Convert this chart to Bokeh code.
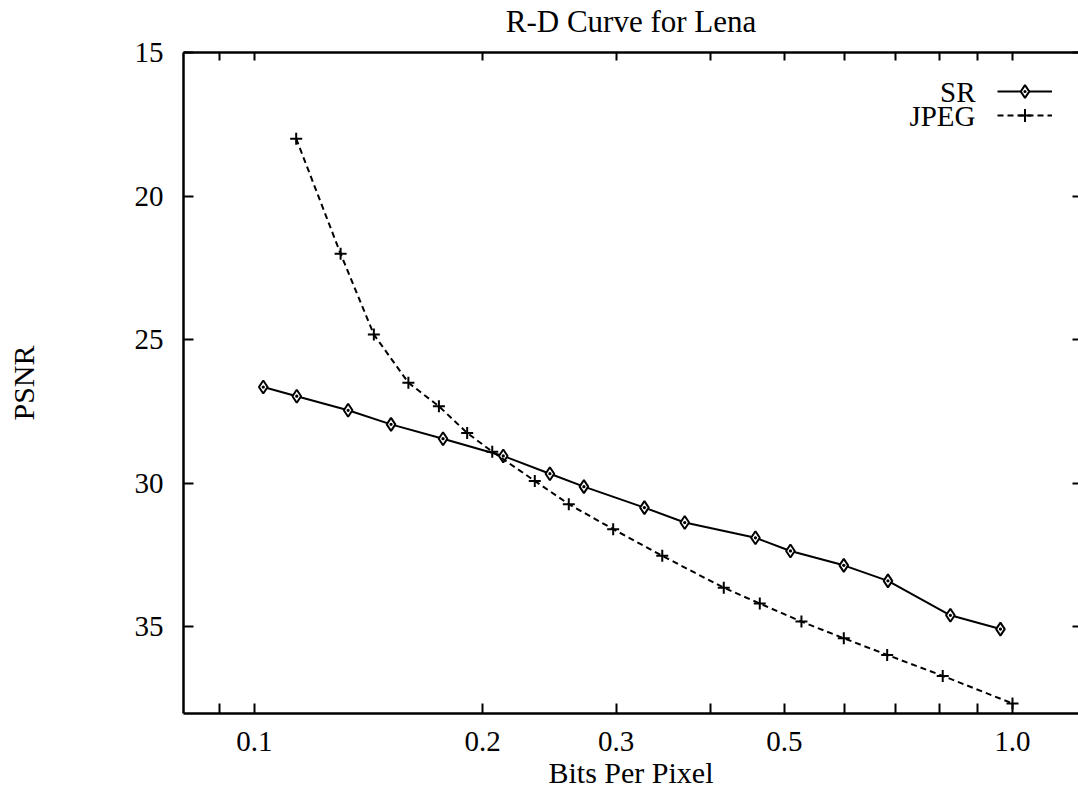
from bokeh.plotting import figure
from bokeh.models import (Range1d, FixedTicker, LogAxis, LinearAxis, Legend,
                          LegendItem, CustomJSTickFormatter, Label)
from bokeh.embed import file_html
from bokeh.resources import INLINE

# Rate (bits per pixel) vs. PSNR for the two coders
sr_bpp = [0.1027, 0.1137, 0.1329, 0.1514, 0.1773, 0.2129, 0.2453, 0.2720,
          0.3269, 0.3695, 0.458, 0.5094, 0.599, 0.685, 0.828, 0.964]
sr_psnr = [26.65, 26.97, 27.46, 27.95, 28.45, 29.05, 29.67, 30.12,
           30.85, 31.37, 31.9, 32.36, 32.86, 33.4, 34.6, 35.08]

jpeg_bpp = [0.1135, 0.1299, 0.1437, 0.1596, 0.1751, 0.1908, 0.2059, 0.2343,
            0.2598, 0.2973, 0.3451, 0.4160, 0.4641, 0.5267, 0.599, 0.6834,
            0.809, 1.0]
jpeg_psnr = [18.0, 22.01, 24.82, 26.5, 27.32, 28.25, 28.9, 29.92,
             30.73, 31.6, 32.53, 33.64, 34.19, 34.82, 35.4, 35.98,
             36.71, 37.67]

x_major = [0.1, 0.2, 0.3, 0.5, 1.0]
x_minor = [0.09, 0.4, 0.6, 0.7, 0.8, 0.9]
y_ticks = [15, 20, 25, 30, 35]
series_names = ["SR", "JPEG"]
title_text = "R-D Curve for Lena"

FONT = "Liberation Serif"
W, H = 1078, 791
LEFT, TOP, BOTTOM = 183, 51, 78
FRAME_W, FRAME_H = W - LEFT, H - TOP - BOTTOM

p = figure(width=W, height=H, x_axis_type="log",
           x_range=Range1d(0.0806, 1.222), y_range=Range1d(38.02, 15),
           output_backend="svg", toolbar_location=None,
           min_border_left=LEFT, min_border_right=0,
           min_border_top=TOP, min_border_bottom=BOTTOM)

p.background_fill_color = "white"
p.border_fill_color = "white"
p.outline_line_color = None
p.grid.visible = False


def style_axis(ax, tick_in=10):
    ax.axis_line_color = "black"
    ax.axis_line_width = 2.5
    ax.major_tick_line_color = "black"
    ax.minor_tick_line_color = "black"
    ax.major_tick_line_width = 2
    ax.minor_tick_line_width = 2
    ax.major_tick_in = tick_in
    ax.major_tick_out = 0
    ax.minor_tick_in = tick_in
    ax.minor_tick_out = 0
    ax.major_label_text_font = FONT
    ax.major_label_text_font_size = "29px"
    ax.major_label_text_color = "black"
    ax.axis_label_text_font = FONT
    ax.axis_label_text_font_size = "30px"
    ax.axis_label_text_font_style = "normal"
    ax.axis_label_text_color = "black"


xax = p.xaxis[0]
xax.ticker = FixedTicker(ticks=x_major, minor_ticks=x_minor)
xax.formatter = CustomJSTickFormatter(code="return tick.toFixed(1);")
xax.axis_label = "Bits Per Pixel"
style_axis(xax)
xax.major_label_standoff = 18
xax.axis_label_standoff = 2

yax = p.yaxis[0]
yax.ticker = FixedTicker(ticks=y_ticks)
yax.axis_label = "PSNR"
style_axis(yax)
yax.major_label_standoff = 20
yax.axis_label_standoff = 92

# Top frame edge: ticks only, with the chart title as its label
blank = CustomJSTickFormatter(code="return '';")
top = LogAxis(ticker=FixedTicker(ticks=x_major, minor_ticks=x_minor),
              formatter=blank)
style_axis(top, tick_in=8)
top.major_label_standoff = 0
top.major_label_text_font_size = "0px"
top.axis_label = title_text
top.axis_label_text_font_size = "31px"
top.axis_label_standoff = 14
p.add_layout(top, "above")

right = LinearAxis(ticker=FixedTicker(ticks=y_ticks), formatter=blank)
style_axis(right, tick_in=6)
right.axis_line_color = None
right.major_label_standoff = 0
right.major_label_text_font_size = "0px"
p.add_layout(right, "right")

sr_line = p.line(sr_bpp, sr_psnr, line_color="black", line_width=2)
sr_pts = p.scatter(sr_bpp, sr_psnr, marker="diamond_dot", size=13,
                   line_color="black", line_width=2, fill_color="white")

jp_line = p.line(jpeg_bpp, jpeg_psnr, line_color="black", line_width=2,
                 line_dash="6 4")
jp_pts = p.scatter(jpeg_bpp, jpeg_psnr, marker="cross", size=12,
                   line_color="black", line_width=2)


# Key: series name on the left, line sample on the right
def key(name, renderers, row_y):
    lg = Legend(items=[LegendItem(label="", renderers=renderers)],
                location=(814, FRAME_H + TOP - row_y - 16),
                orientation="vertical")
    lg.glyph_width = 55
    lg.glyph_height = 32
    lg.label_height = 32
    lg.label_width = 0
    lg.label_standoff = 0
    lg.padding = 0
    lg.margin = 0
    lg.spacing = 0
    lg.border_line_color = None
    lg.background_fill_alpha = 0
    p.add_layout(lg)
    p.add_layout(Label(x=975 - LEFT, y=FRAME_H + TOP - row_y,
                       x_units="screen", y_units="screen",
                       text=name, text_align="right", text_baseline="middle",
                       text_font=FONT, text_font_size="29px",
                       text_color="black"))


key(series_names[0], [sr_line, sr_pts], 91)
key(series_names[1], [jp_line, jp_pts], 115)

open("out.html", "w").write(file_html(p, INLINE))
